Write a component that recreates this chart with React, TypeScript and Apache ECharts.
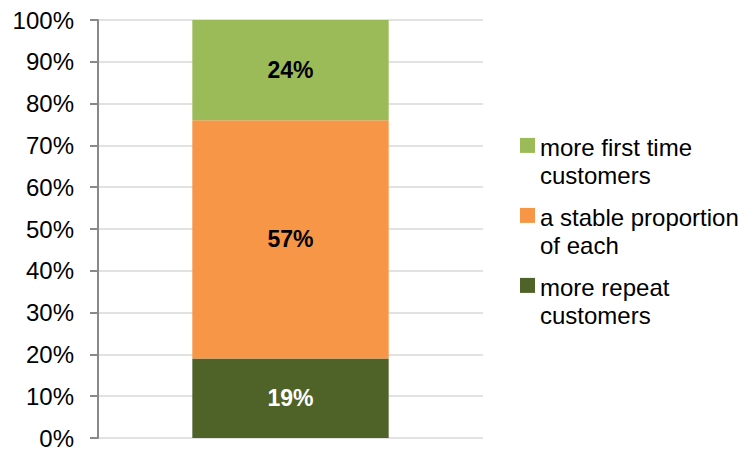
import React, { useEffect, useRef } from "react";
import * as echarts from "echarts";

const categories = [""];
const seriesNames = ["more repeat customers", "a stable proportion of each", "more first time customers"];
const legendLabels = ["more repeat\ncustomers", "a stable proportion\nof each", "more first time\ncustomers"];
const repeatValues = [19];
const stableValues = [57];
const firstTimeValues = [24];
const seriesColors = ["#4F6228", "#F79646", "#9BBB59"];
const labelColors = ["#FFFFFF", "#000000", "#000000"];
const yMin = 0;
const yMax = 100;
const yInterval = 10;

const FONT = "'Liberation Sans', Arial, sans-serif";
const FS = 24;

export default function App() {
  const ref = useRef<HTMLDivElement>(null);
  useEffect(() => {
    if (!ref.current) return;
    const chart = echarts.init(ref.current, undefined, { renderer: "svg" });
    const values = [repeatValues, stableValues, firstTimeValues];
    const series = seriesNames.map((name, i) => ({
      name,
      type: "bar",
      stack: "total",
      barWidth: "51%",
      data: values[i],
      itemStyle: { color: seriesColors[i] },
      label: {
        show: true,
        position: "inside",
        formatter: "{c}%",
        color: labelColors[i],
        fontSize: 23,
        fontWeight: "bold",
        fontFamily: FONT,
      },
    }));
    const legendOrder = [2, 1, 0];
    const graphic: any[] = [];
    legendOrder.forEach((si, k) => {
      const c = 147.4 + 70 * k;
      graphic.push({
        type: "rect",
        left: 520,
        top: c - 9.5,
        shape: { x: 0, y: 0, width: 15, height: 15 },
        style: { fill: seriesColors[si] },
      });
      graphic.push({
        type: "text",
        left: 540,
        top: c - 14,
        style: {
          text: legendLabels[si],
          fill: "#000",
          font: `${FS}px ${FONT}`,
          lineHeight: 28,
        },
      });
    });
    chart.setOption({
      animation: false,
      backgroundColor: "#fff",
      textStyle: { fontFamily: FONT },
      grid: { left: 98, right: 272, top: 20, bottom: 10, containLabel: false },
      xAxis: {
        type: "category",
        data: categories,
        axisLine: { show: false },
        axisTick: { show: false },
        axisLabel: { show: false },
      },
      yAxis: {
        type: "value",
        min: yMin,
        max: yMax,
        interval: yInterval,
        axisLine: { show: true, lineStyle: { color: "#898989", width: 2 } },
        axisTick: { show: true, length: 8, lineStyle: { color: "#898989", width: 2 } },
        axisLabel: {
          formatter: "{value}%",
          color: "#000",
          fontSize: FS,
          fontFamily: FONT,
          margin: 24,
        },
        splitLine: { show: true, lineStyle: { color: "#D9D9D9", width: 1.5 } },
      },
      series,
      graphic,
    });
    return () => chart.dispose();
  }, []);
  return (
    <div
      ref={ref}
      style={{ position: "fixed", left: 0, top: 0, width: 755, height: 450 }}
    />
  );
}
